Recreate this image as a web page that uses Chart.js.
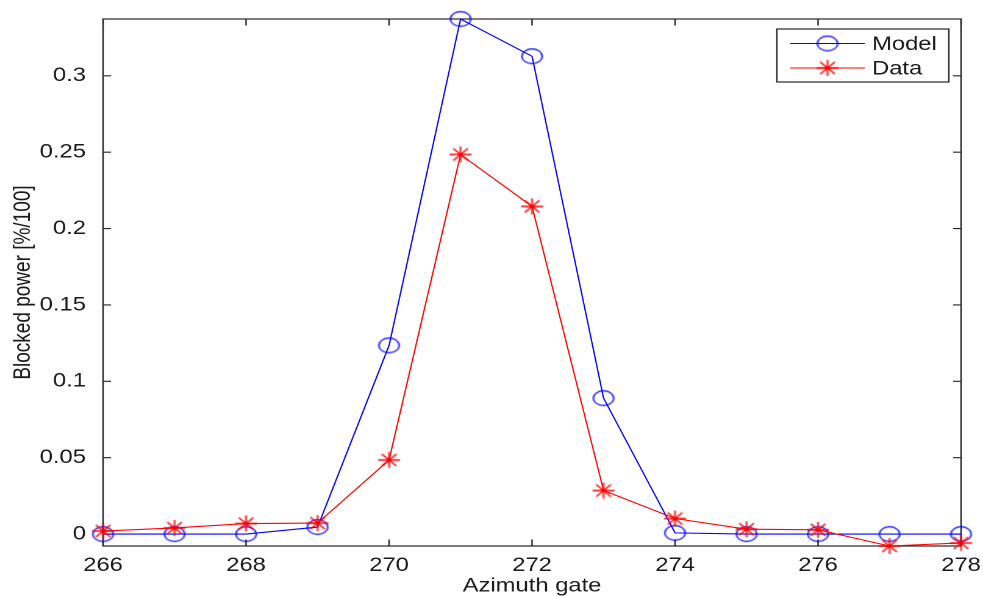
<!DOCTYPE html>
<html>
<head>
<meta charset="utf-8">
<script src="https://cdn.jsdelivr.net/npm/chart.js@4/dist/chart.umd.min.js"></script>
<style>
  html, body { margin: 0; padding: 0; background: #fff; }
  #chart { display: block; width: 983px !important; height: 596px !important; }
</style>
</head>
<body>
<canvas id="chart" width="806" height="596"></canvas>
<script>
// azimuth gates and blocked power [%/100]
const gates = [266, 267, 268, 269, 270, 271, 272, 273, 274, 275, 276, 277, 278];
const modelValues = [0, 0, 0, 0.0046, 0.1235, 0.3372, 0.3128, 0.089, 0.0008, 0, 0, 0, 0];
const dataValues = [0.002, 0.004, 0.0069, 0.0072, 0.0485, 0.2485, 0.2145, 0.0285, 0.0102, 0.0032, 0.0028, -0.0078, -0.0058];
const yTicks = [0, 0.05, 0.1, 0.15, 0.2, 0.25, 0.3];
const seriesNames = ["Model", "Data"];

const FONT = '"Liberation Sans", Arial, Helvetica, sans-serif';
const AXIS = '#262626';

// the picture is stretched sideways, so markers are drawn as small images
function circleMarker() {
    const c = document.createElement('canvas');
    c.width = 20; c.height = 18;
    const g = c.getContext('2d');
    g.strokeStyle = '#0000ff';
    g.lineWidth = 1.2;
    g.beginPath();
    g.ellipse(10, 9, 8.4, 7.3, 0, 0, Math.PI * 2);
    g.stroke();
    return c;
}
function starMarker() {
    const c = document.createElement('canvas');
    c.width = 20; c.height = 18;
    const g = c.getContext('2d');
    g.strokeStyle = '#ff0000';
    g.lineWidth = 1.3;
    g.beginPath();
    g.moveTo(1, 9); g.lineTo(19, 9);
    g.moveTo(10, 1); g.lineTo(10, 17);
    g.moveTo(4, 3); g.lineTo(16, 15);
    g.moveTo(16, 3); g.lineTo(4, 15);
    g.stroke();
    return c;
}
const circleImg = circleMarker();
const starImg = starMarker();

const frame = {
    id: 'frame',
    beforeDatasetsDraw(chart) {
        const {ctx, chartArea: a, scales} = chart;
        ctx.save();
        ctx.strokeStyle = AXIS;
        ctx.lineWidth = 1.2;
        ctx.strokeRect(a.left, a.top, a.right - a.left, a.bottom - a.top);
        ctx.beginPath();
        scales.x.ticks.forEach(t => {
            const px = scales.x.getPixelForValue(t.value);
            ctx.moveTo(px, a.bottom); ctx.lineTo(px, a.bottom - 6.5);
            ctx.moveTo(px, a.top); ctx.lineTo(px, a.top + 6.5);
        });
        scales.y.ticks.forEach(t => {
            const py = scales.y.getPixelForValue(t.value);
            ctx.moveTo(a.left, py); ctx.lineTo(a.left + 6.5, py);
            ctx.moveTo(a.right, py); ctx.lineTo(a.right - 6.5, py);
        });
        ctx.stroke();
        ctx.restore();
    },
    afterDraw(chart) {
        const ctx = chart.ctx;
        const box = {x: 637, y: 29, w: 141, h: 53};
        ctx.save();
        ctx.fillStyle = '#fff';
        ctx.fillRect(box.x, box.y, box.w, box.h);
        ctx.strokeStyle = AXIS;
        ctx.lineWidth = 1.2;
        ctx.strokeRect(box.x, box.y, box.w, box.h);
        const rows = [
            {name: seriesNames[0], color: '#0000ff', img: circleImg, y: 43.5},
            {name: seriesNames[1], color: '#ff0000', img: starImg, y: 68}
        ];
        rows.forEach(r => {
            ctx.strokeStyle = r.color;
            ctx.lineWidth = 1.1;
            ctx.beginPath();
            ctx.moveTo(648, r.y); ctx.lineTo(709, r.y);
            ctx.stroke();
            ctx.drawImage(r.img, 678.5 - r.img.width / 2, r.y - r.img.height / 2);
            ctx.fillStyle = '#1a1a1a';
            ctx.font = '19.5px ' + FONT;
            ctx.textBaseline = 'middle';
            ctx.fillText(r.name, 715, r.y + 1);
        });
        ctx.restore();
    }
};

new Chart(document.getElementById('chart'), {
    type: 'line',
    data: {
        datasets: [
            {
                label: seriesNames[0],
                data: gates.map((g, i) => ({x: g, y: modelValues[i]})),
                borderColor: '#0000ff',
                borderWidth: 1.1,
                pointStyle: circleImg,
                clip: false,
                order: 1
            },
            {
                label: seriesNames[1],
                data: gates.map((g, i) => ({x: g, y: dataValues[i]})),
                borderColor: '#ff0000',
                borderWidth: 1.1,
                pointStyle: starImg,
                clip: false,
                order: 0
            }
        ]
    },
    options: {
        responsive: false,
        animation: false,
        devicePixelRatio: 2,
        layout: {padding: {left: 0, top: 19, right: 18, bottom: 0}},
        plugins: {legend: {display: false}, tooltip: {enabled: false}},
        elements: {line: {tension: 0}, point: {radius: 9}},
        scales: {
            x: {
                type: 'linear',
                min: gates[0],
                max: gates[gates.length - 1],
                grid: {display: false},
                border: {display: false},
                ticks: {stepSize: 2, padding: 0, color: '#1a1a1a', font: {family: FONT, size: 19.5}, maxRotation: 0},
                title: {display: true, text: 'Azimuth gate', color: '#1a1a1a', font: {family: FONT, size: 19.5, lineHeight: 1}, padding: {top: 0, bottom: 0}},
                afterFit(scale) {
                    scale.height = 50;
                    scale.paddingLeft = 0;
                    scale.paddingRight = 0;
                }
            },
            y: {
                min: Math.min(...dataValues, ...modelValues),
                max: Math.max(...dataValues, ...modelValues),
                grid: {display: false},
                border: {display: false},
                afterBuildTicks(scale) { scale.ticks = yTicks.map(v => ({value: v})); },
                ticks: {
                    padding: 6,
                    color: '#1a1a1a',
                    font: {family: FONT, size: 19.5},
                    callback: v => String(+v.toFixed(2))
                },
                title: {display: true, text: 'Blocked power [%/100]', color: '#1a1a1a', font: {family: FONT, size: 19}, padding: {top: 8, bottom: 0}},
                afterFit(scale) {
                    scale.width = 84.5;
                    scale.paddingTop = 0;
                    scale.paddingBottom = 0;
                }
            }
        }
    },
    plugins: [frame]
});
</script>
</body>
</html>
